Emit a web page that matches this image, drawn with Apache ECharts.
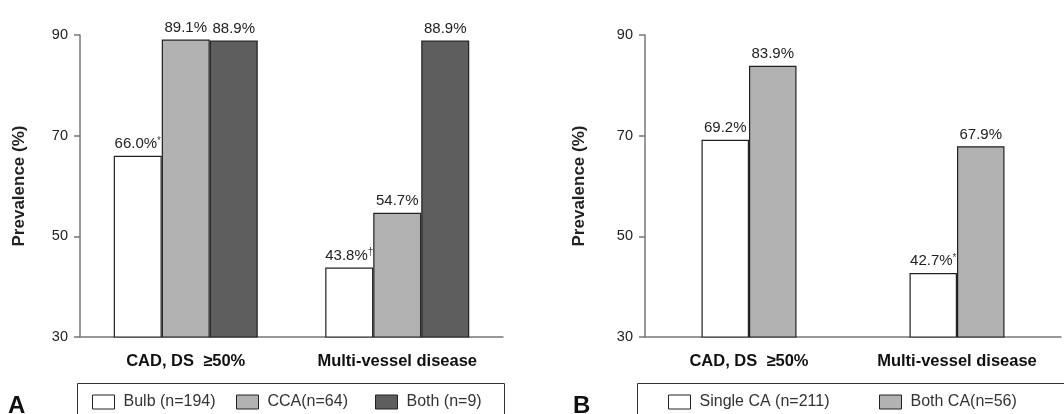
<!DOCTYPE html>
<html>
<head>
<meta charset="utf-8">
<script src="https://cdn.jsdelivr.net/npm/echarts@6/dist/echarts.min.js"></script>
<style>html,body{margin:0;padding:0;background:#fff}#c{width:1064px;height:414px}</style>
</head>
<body>
<div id="c"></div>
<script>
// ---- Data ----
const categories = ["CAD, DS  \u226550%", "Multi-vessel disease"];
const yTicks = [30, 50, 70, 90];

const seriesNamesA = ["Bulb (n=194)", "CCA(n=64)", "Both (n=9)"];
const bulbA = [66.0, 43.8];
const ccaA = [89.1, 54.7];
const bothA = [88.9, 88.9];
const marksA = [["*", "\u2020"], ["", ""], ["", ""]];

const seriesNamesB = ["Single CA (n=211)", "Both CA(n=56)"];
const singleB = [69.2, 42.7];
const bothCAB = [83.9, 67.9];
const marksB = [["", "*"], ["", ""]];

// ---- Chart ----
const FONT = '"Liberation Sans", Arial, sans-serif';
const colors = ["#ffffff", "#b2b2b2", "#5e5e5e"];
const chart = echarts.init(document.getElementById('c'), null, {renderer: 'canvas'});

function yAxis(gridIndex, nameGap) {
  return {
    gridIndex, type: 'value', min: yTicks[0], max: yTicks[yTicks.length - 1], interval: 20,
    name: 'Prevalence (%)', nameLocation: 'middle', nameGap,
    nameTextStyle: {fontFamily: FONT, fontWeight: 'bold', fontSize: 17, color: '#222'},
    axisLine: {show: true, lineStyle: {color: '#777', width: 1.5}},
    axisTick: {show: true, length: 6, lineStyle: {color: '#777', width: 1.5}},
    axisLabel: {fontFamily: FONT, fontSize: 14.5, color: '#222', margin: 12},
    splitLine: {show: false}
  };
}
function xAxis(gridIndex) {
  return {
    gridIndex, type: 'category', data: categories,
    axisLine: {show: true, lineStyle: {color: '#777', width: 1.5}},
    axisTick: {show: false},
    axisLabel: {fontFamily: FONT, fontSize: 16.5, fontWeight: 'bold', color: '#111', margin: 16}
  };
}
function barSeries(name, data, color, marks, xi, width) {
  return {
    name, type: 'bar', xAxisIndex: xi, yAxisIndex: xi, data,
    barWidth: width, barGap: '0%',
    itemStyle: {color, borderColor: '#222', borderWidth: 1.2},
    label: {
      show: true, position: 'top', distance: 4,
      fontFamily: FONT, fontSize: 15, color: '#222',
      formatter: p => p.value.toFixed(1) + '%' + (marks[p.dataIndex] ? '{s|' + marks[p.dataIndex] + '}' : ''),
      rich: {s: {fontSize: 10, color: '#444', verticalAlign: 'top', padding: [0, 0, 6, 0]}}
    }
  };
}
function legendFor(name, left) {
  return {
    data: [name], left, top: 394, padding: 0, itemWidth: 22, itemHeight: 14, icon: 'rect',
    itemStyle: {borderColor: '#222', borderWidth: 1},
    textStyle: {fontFamily: FONT, fontSize: 16, color: '#333', padding: [0, 0, 0, 4]},
    selectedMode: false
  };
}

const option = {
  animation: false,
  grid: [
    {left: 80, right: 561, top: 35, bottom: 77},
    {left: 645, right: 3, top: 35, bottom: 77}
  ],
  xAxis: [xAxis(0), xAxis(1)],
  yAxis: [yAxis(0, 52), yAxis(1, 57)],
  legend: [
    legendFor(seriesNamesA[0], 92),
    legendFor(seriesNamesA[1], 236),
    legendFor(seriesNamesA[2], 375),
    legendFor(seriesNamesB[0], 668),
    legendFor(seriesNamesB[1], 879)
  ],
  series: [
    barSeries(seriesNamesA[0], bulbA, colors[0], marksA[0], 0, 48),
    barSeries(seriesNamesA[1], ccaA, colors[1], marksA[1], 0, 48),
    barSeries(seriesNamesA[2], bothA, colors[2], marksA[2], 0, 48),
    barSeries(seriesNamesB[0], singleB, colors[0], marksB[0], 1, 47.5),
    barSeries(seriesNamesB[1], bothCAB, colors[1], marksB[1], 1, 47.5)
  ],
  graphic: [
    {type: 'rect', shape: {x: 77.5, y: 383.5, width: 427, height: 60}, style: {fill: 'none', stroke: '#333', lineWidth: 1}},
    {type: 'rect', shape: {x: 637.5, y: 383.5, width: 500, height: 60}, style: {fill: 'none', stroke: '#333', lineWidth: 1}},
    {type: 'text', left: 8, top: 394, style: {text: 'A', font: 'bold 24px ' + FONT, fill: '#111'}},
    {type: 'text', left: 573, top: 394, style: {text: 'B', font: 'bold 24px ' + FONT, fill: '#111'}}
  ]
};
chart.setOption(option);
</script>
</body>
</html>
